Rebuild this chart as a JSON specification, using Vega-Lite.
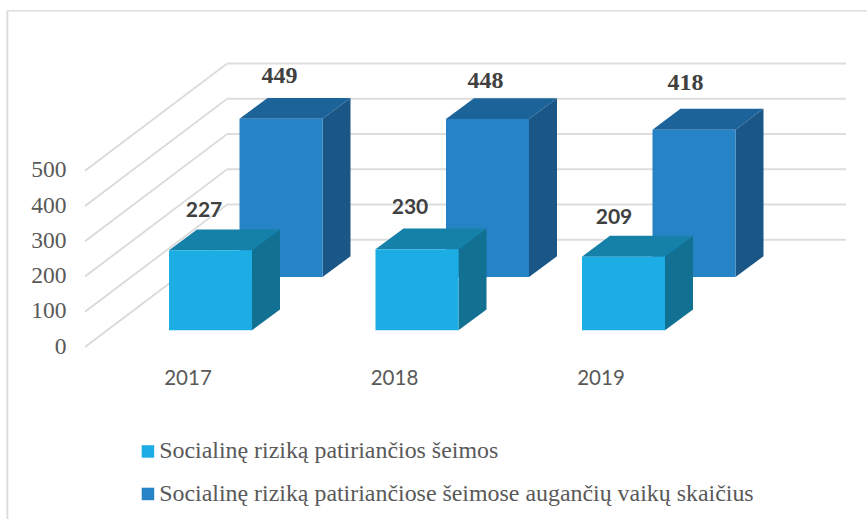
{
"$schema":"https://vega.github.io/schema/vega-lite/v6.json",
"width":867,"height":519,"padding":0,"autosize":{"type":"none"},"background":"white",
"config":{"view":{"stroke":null},"axisY":{"labelFont":"Liberation Serif","labelFontSize":23.5,"labelColor":"#595959"},"axisX":{"labelFont":"Lato","labelFontSize":20.5,"labelColor":"#595959"}},
"datasets":{
"bars":[
{"year":2017,"series":"Socialinę riziką patiriančios šeimos","value":227},
{"year":2018,"series":"Socialinę riziką patiriančios šeimos","value":230},
{"year":2019,"series":"Socialinę riziką patiriančios šeimos","value":209},
{"year":2017,"series":"Socialinę riziką patiriančiose šeimose augančių vaikų skaičius","value":449},
{"year":2018,"series":"Socialinę riziką patiriančiose šeimose augančių vaikų skaičius","value":448},
{"year":2019,"series":"Socialinę riziką patiriančiose šeimose augančių vaikų skaičius","value":418}
],
"ticks":[{"tick":0},{"tick":100},{"tick":200},{"tick":300},{"tick":400},{"tick":500}]
},
"data":{"name":"bars"},
"transform":[
{"calculate":"datum.series==='Socialinę riziką patiriančios šeimos'?0:1","as":"back"},
{"calculate":"datum.back*0.3414","as":"shift"},
{"calculate":"datum.back?198.6:47.4","as":"base"},
{"calculate":"datum.base+datum.value","as":"top"},
{"calculate":"datum.year+datum.shift-0.201","as":"xl"},
{"calculate":"datum.year+datum.shift+0.201","as":"xr"},
{"calculate":"datum.year+datum.shift+({'227':-6.5,'230':-7,'209':-9.5,'449':-1.5,'448':-2,'418':-8.5})[datum.value]/206.5","as":"lx"},
{"calculate":"datum.top+({'227':39,'230':41,'209':39,'449':43,'448':38,'418':47})[datum.value]/0.3525","as":"ly"},
{"calculate":"0","as":"near"},{"calculate":"1","as":"far"}
],
"layer":[
{"data":{"name":"ticks"},"transform":[{"calculate":"datum.tick+304","as":"wall"}],
 "mark":{"type":"rule","color":"#D9D9D9","strokeWidth":1.75},
 "encoding":{
 "x":{"datum":2016.3923,"type":"quantitative","scale":{"domain":[2015.9806,2020.1792],"nice":false,"zero":false},
   "axis":{"title":null,"values":[2017,2018,2019],"format":"d","orient":"bottom","offset":-151,"domain":false,"ticks":false,"grid":false,"labelOffset":-23,"labelPadding":0}},
 "x2":{"datum":2017.0799},
 "y":{"field":"tick","type":"quantitative","scale":{"domain":[-487.9,984.4],"nice":false,"zero":false},
   "axis":{"title":null,"values":[0,100,200,300,400,500],"domain":false,"ticks":false,"grid":false,"labelPadding":-66,"labelOffset":-1}},
 "y2":{"field":"wall"}}},
{"data":{"name":"ticks"},"transform":[{"calculate":"datum.tick+304","as":"wall"}],
 "mark":{"type":"rule","color":"#DDDDDD","strokeWidth":2},
 "encoding":{
 "x":{"datum":2017.0799,"type":"quantitative","scale":{"domain":[2015.9806,2020.1792],"nice":false,"zero":false}},
 "x2":{"datum":2020.0775},
 "y":{"field":"wall","type":"quantitative","scale":{"domain":[-487.9,984.4],"nice":false,"zero":false}}}},
{"data":{"values":[{"edge":2016.016}]},
 "mark":{"type":"rule","color":"#DDDDDD","strokeWidth":2},
 "encoding":{"x":{"field":"edge","type":"quantitative","scale":{"domain":[2015.9806,2020.1792],"nice":false,"zero":false}},
 "y":{"datum":954,"type":"quantitative","scale":{"domain":[-487.9,984.4],"nice":false,"zero":false}},"y2":{"datum":-487.9}}},
{"data":{"values":[{"edge":954}]},
 "mark":{"type":"rule","color":"#DDDDDD","strokeWidth":1.5},
 "encoding":{"y":{"field":"edge","type":"quantitative","scale":{"domain":[-487.9,984.4],"nice":false,"zero":false}},
 "x":{"datum":2016.016,"type":"quantitative","scale":{"domain":[2015.9806,2020.1792],"nice":false,"zero":false}},"x2":{"datum":2020.1792}}},

{"transform":[{"filter":"datum.back==1"},{"fold":["near","far"],"as":["corner","d"]},
  {"calculate":"datum.xr+datum.d*0.1356","as":"xs"},{"calculate":"datum.top+datum.d*59","as":"yt"},{"calculate":"datum.base+datum.d*59","as":"yb"}],
 "mark":{"type":"area","color":"#1A5686"},
 "encoding":{"detail":{"field":"year"},
 "x":{"field":"xs","type":"quantitative","scale":{"domain":[2015.9806,2020.1792],"nice":false,"zero":false}},
 "y":{"field":"yt","type":"quantitative","scale":{"domain":[-487.9,984.4],"nice":false,"zero":false}},"y2":{"field":"yb"}}},
{"transform":[{"filter":"datum.back==1"},{"fold":["near","far"],"as":["corner","d"]},
  {"calculate":"datum.xl+datum.d*0.1356","as":"xa"},{"calculate":"datum.xr+datum.d*0.1356","as":"xb"},{"calculate":"datum.top+datum.d*59","as":"yt"}],
 "mark":{"type":"area","orient":"horizontal","color":"#1C6399"},
 "encoding":{"detail":{"field":"year"},
 "y":{"field":"yt","type":"quantitative","scale":{"domain":[-487.9,984.4],"nice":false,"zero":false}},
 "x":{"field":"xa","type":"quantitative","scale":{"domain":[2015.9806,2020.1792],"nice":false,"zero":false}},"x2":{"field":"xb"}}},
{"transform":[{"filter":"datum.back==1"}],
 "mark":{"type":"rect"},
 "encoding":{
 "x":{"field":"xl","type":"quantitative","scale":{"domain":[2015.9806,2020.1792],"nice":false,"zero":false}},"x2":{"field":"xr"},
 "y":{"field":"top","type":"quantitative","scale":{"domain":[-487.9,984.4],"nice":false,"zero":false}},"y2":{"field":"base"},
 "color":{"field":"series","type":"nominal","scale":{"domain":["Socialinę riziką patiriančios šeimos","Socialinę riziką patiriančiose šeimose augančių vaikų skaičius"],"range":["#1CADE4","#2683C6"]},
  "legend":{"title":null,"orient":"none","legendX":136,"legendY":439.5,"padding":0,"symbolType":"square","symbolSize":156,"symbolStrokeWidth":0,"labelFont":"Liberation Serif","labelFontSize":23.9,"labelColor":"#595959","labelLimit":800,"labelOffset":-0.7,"rowPadding":17.5}}}},

{"transform":[{"filter":"datum.back==0"},{"fold":["near","far"],"as":["corner","d"]},
  {"calculate":"datum.xr+datum.d*0.1356","as":"xs"},{"calculate":"datum.top+datum.d*59","as":"yt"},{"calculate":"datum.base+datum.d*59","as":"yb"}],
 "mark":{"type":"area","color":"#127092"},
 "encoding":{"detail":{"field":"year"},
 "x":{"field":"xs","type":"quantitative","scale":{"domain":[2015.9806,2020.1792],"nice":false,"zero":false}},
 "y":{"field":"yt","type":"quantitative","scale":{"domain":[-487.9,984.4],"nice":false,"zero":false}},"y2":{"field":"yb"}}},
{"transform":[{"filter":"datum.back==0"},{"fold":["near","far"],"as":["corner","d"]},
  {"calculate":"datum.xl+datum.d*0.1356","as":"xa"},{"calculate":"datum.xr+datum.d*0.1356","as":"xb"},{"calculate":"datum.top+datum.d*59","as":"yt"}],
 "mark":{"type":"area","orient":"horizontal","color":"#1580A8"},
 "encoding":{"detail":{"field":"year"},
 "y":{"field":"yt","type":"quantitative","scale":{"domain":[-487.9,984.4],"nice":false,"zero":false}},
 "x":{"field":"xa","type":"quantitative","scale":{"domain":[2015.9806,2020.1792],"nice":false,"zero":false}},"x2":{"field":"xb"}}},
{"transform":[{"filter":"datum.back==0"}],
 "mark":{"type":"rect"},
 "encoding":{
 "x":{"field":"xl","type":"quantitative","scale":{"domain":[2015.9806,2020.1792],"nice":false,"zero":false}},"x2":{"field":"xr"},
 "y":{"field":"top","type":"quantitative","scale":{"domain":[-487.9,984.4],"nice":false,"zero":false}},"y2":{"field":"base"},
 "color":{"field":"series","type":"nominal","scale":{"domain":["Socialinę riziką patiriančios šeimos","Socialinę riziką patiriančiose šeimose augančių vaikų skaičius"],"range":["#1CADE4","#2683C6"]}}}},

{"transform":[{"filter":"datum.back==1"}],
 "mark":{"type":"text","font":"Liberation Serif","fontWeight":"bold","fontSize":24,"color":"#404040","baseline":"middle"},
 "encoding":{
 "x":{"field":"lx","type":"quantitative","scale":{"domain":[2015.9806,2020.1792],"nice":false,"zero":false}},
 "y":{"field":"ly","type":"quantitative","scale":{"domain":[-487.9,984.4],"nice":false,"zero":false}},
 "text":{"field":"value","type":"quantitative"}}},
{"transform":[{"filter":"datum.back==0"}],
 "mark":{"type":"text","font":"Lato","fontWeight":"bold","fontSize":21,"color":"#404040","baseline":"middle"},
 "encoding":{
 "x":{"field":"lx","type":"quantitative","scale":{"domain":[2015.9806,2020.1792],"nice":false,"zero":false}},
 "y":{"field":"ly","type":"quantitative","scale":{"domain":[-487.9,984.4],"nice":false,"zero":false}},
 "text":{"field":"value","type":"quantitative"}}}
]
}
